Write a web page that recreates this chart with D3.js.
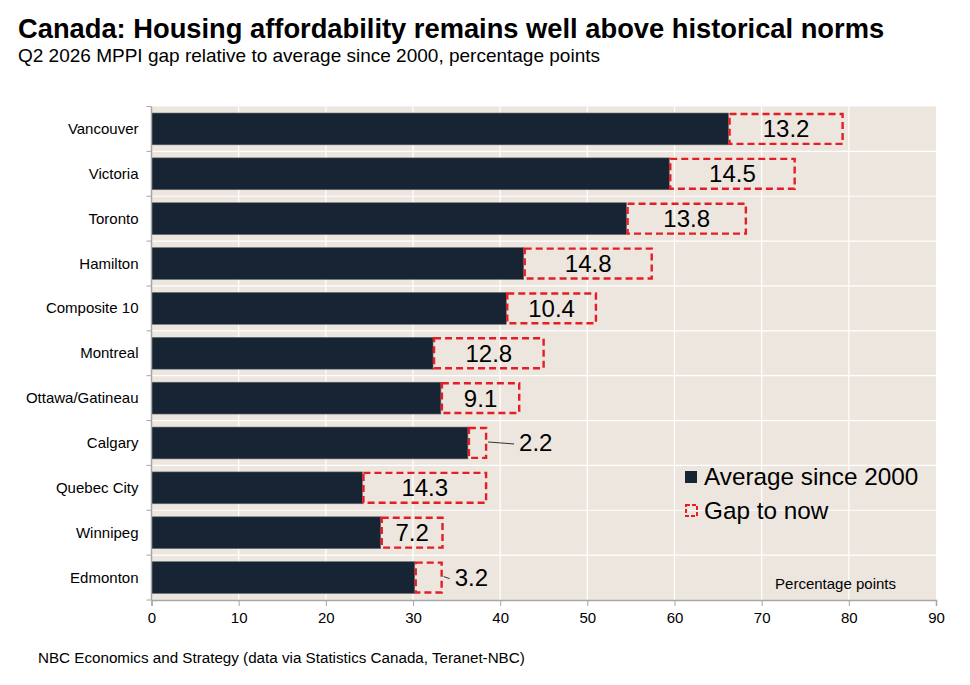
<!DOCTYPE html>
<html>
<head>
<meta charset="utf-8">
<script src="https://cdn.jsdelivr.net/npm/d3@7"></script>
<style>
  body { margin: 0; background: #fff; }
  text { font-family: "Liberation Sans", Arial, sans-serif; }
</style>
</head>
<body>
<div id="chart"></div>
<script>
// chart data
const cities = ['Vancouver', 'Victoria', 'Toronto', 'Hamilton', 'Composite 10', 'Montreal',
  'Ottawa/Gatineau', 'Calgary', 'Quebec City', 'Winnipeg', 'Edmonton'];
const averageSince2000 = [66.2, 59.4, 54.5, 42.7, 40.7, 32.3, 33.2, 36.3, 24.2, 26.3, 30.2];
const gapToNow = [13.2, 14.5, 13.8, 14.8, 10.4, 12.8, 9.1, 2.2, 14.3, 7.2, 3.2];
const xTicks = [0, 10, 20, 30, 40, 50, 60, 70, 80, 90];

const width = 970, height = 685;
const margin = { top: 106.5, right: 34, bottom: 85, left: 151.5 };
const red = '#e31e26', navy = '#162433';

const svg = d3.select('#chart').append('svg')
  .attr('width', width).attr('height', height);

const x = d3.scaleLinear().domain([0, 90]).range([margin.left, width - margin.right]);
const y = d3.scaleBand().domain(cities).range([margin.top, height - margin.bottom])
  .paddingInner(0.29).paddingOuter(0.145);

// plot background
svg.append('rect')
  .attr('x', x(0)).attr('y', margin.top)
  .attr('width', x(90) - x(0)).attr('height', height - margin.bottom - margin.top)
  .attr('fill', '#ede6df');

// grid: vertical at ticks, horizontal at band edges
const bandEdges = d3.range(cities.length + 1).map((i) => margin.top + i * (height - margin.bottom - margin.top) / cities.length);
svg.append('g').selectAll('line').data(xTicks.slice(1, -1)).join('line')
  .attr('x1', (d) => x(d)).attr('x2', (d) => x(d))
  .attr('y1', margin.top).attr('y2', height - margin.bottom)
  .attr('stroke', '#fff').attr('stroke-width', 1.2);
svg.append('g').selectAll('line').data(bandEdges.slice(1, -1)).join('line')
  .attr('x1', x(0)).attr('x2', x(90))
  .attr('y1', (d) => d).attr('y2', (d) => d)
  .attr('stroke', '#fff').attr('stroke-width', 1.2);

// average bars
svg.append('g').selectAll('rect').data(cities).join('rect')
  .attr('x', x(0))
  .attr('y', (d) => y(d))
  .attr('width', (d, i) => x(averageSince2000[i]) - x(0))
  .attr('height', y.bandwidth())
  .attr('fill', navy)
  .attr('stroke', '#6b6f74').attr('stroke-width', 0.6);

// gap boxes (dashed red)
svg.append('g').selectAll('rect').data(cities).join('rect')
  .attr('x', (d, i) => x(averageSince2000[i]) + 1)
  .attr('y', (d) => y(d) + 1)
  .attr('width', (d, i) => x(averageSince2000[i] + gapToNow[i]) - x(averageSince2000[i]) - 2)
  .attr('height', y.bandwidth() - 2)
  .attr('fill', 'none')
  .attr('stroke', red).attr('stroke-width', 2.4)
  .attr('stroke-dasharray', '7,4');

// value labels: inside the box when wide enough, else outside with a leader
const labels = svg.append('g');
cities.forEach((c, i) => {
  const x0 = x(averageSince2000[i]), x1 = x(averageSince2000[i] + gapToNow[i]);
  const cy = y(c) + y.bandwidth() / 2;
  if (gapToNow[i] >= 5) {
    labels.append('text')
      .attr('x', (x0 + x1) / 2).attr('y', cy + 8.5)
      .attr('text-anchor', 'middle').attr('font-size', 24)
      .text(gapToNow[i].toFixed(1));
  } else {
    const lead = gapToNow[i] < 3 ? 27 : 7;
    labels.append('line')
      .attr('x1', x1 + 1).attr('x2', x1 + lead)
      .attr('y1', cy - 1).attr('y2', cy + 1)
      .attr('stroke', '#333').attr('stroke-width', 1);
    labels.append('text')
      .attr('x', x1 + lead + 5).attr('y', cy + 8.5)
      .attr('font-size', 24)
      .text(gapToNow[i].toFixed(1));
  }
});

// axes
const xAxis = svg.append('g')
  .attr('transform', `translate(0,${height - margin.bottom})`)
  .call(d3.axisBottom(x).tickValues(xTicks).tickSize(6).tickPadding(6));
xAxis.select('.domain').attr('stroke', '#a6a6a6').attr('stroke-width', 1.5);
xAxis.selectAll('.tick line').attr('stroke', '#a6a6a6');
xAxis.selectAll('text').attr('font-size', 15).attr('fill', '#000')
  .attr('font-family', '"Liberation Sans", Arial, sans-serif');

const yAxis = svg.append('g').attr('transform', `translate(${x(0)},0)`);
yAxis.append('line')
  .attr('x1', 0).attr('x2', 0).attr('y1', margin.top).attr('y2', height - margin.bottom)
  .attr('stroke', '#a6a6a6').attr('stroke-width', 1.5);
yAxis.selectAll('line.tk').data(bandEdges).join('line').attr('class', 'tk')
  .attr('x1', -5).attr('x2', 0).attr('y1', (d) => d).attr('y2', (d) => d)
  .attr('stroke', '#a6a6a6');
yAxis.selectAll('text').data(cities).join('text')
  .attr('x', -13).attr('y', (d) => y(d) + y.bandwidth() / 2 + 5)
  .attr('text-anchor', 'end').attr('font-size', 15)
  .text((d) => d);

// legend
const lg = svg.append('g').attr('transform', 'translate(685,471)');
lg.append('rect').attr('width', 12).attr('height', 12).attr('fill', navy);
lg.append('text').attr('x', 19).attr('y', 14).attr('font-size', 24.3).text('Average since 2000');
lg.append('rect').attr('x', 1).attr('y', 34).attr('width', 11).attr('height', 11)
  .attr('fill', 'none').attr('stroke', red).attr('stroke-width', 2).attr('stroke-dasharray', '4,2');
lg.append('text').attr('x', 19).attr('y', 48).attr('font-size', 24.3).text('Gap to now');

svg.append('text').attr('x', 896).attr('y', 589).attr('text-anchor', 'end')
  .attr('font-size', 15).text('Percentage points');

// titles and source
svg.append('text').attr('x', 18).attr('y', 38).attr('font-size', 27.3).attr('font-weight', 'bold')
  .text('Canada: Housing affordability remains well above historical norms');
svg.append('text').attr('x', 18).attr('y', 62).attr('font-size', 19)
  .text('Q2 2026 MPPI gap relative to average since 2000, percentage points');
svg.append('text').attr('x', 38).attr('y', 663).attr('font-size', 15.2)
  .text('NBC Economics and Strategy (data via Statistics Canada, Teranet-NBC)');
</script>
</body>
</html>
